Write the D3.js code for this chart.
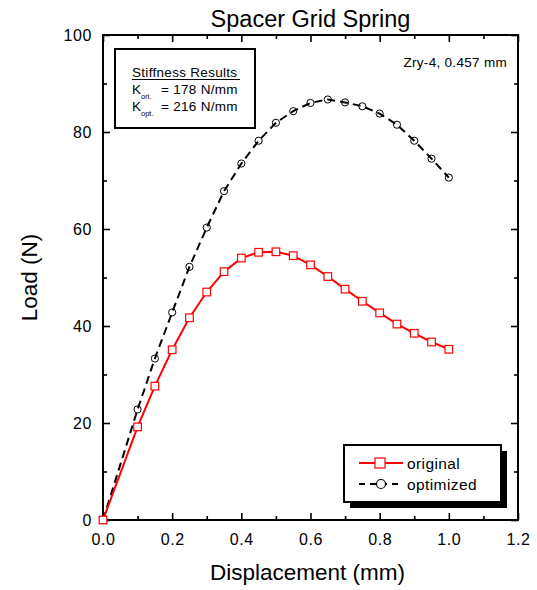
<!DOCTYPE html>
<html>
<head>
<meta charset="utf-8">
<script src="https://cdn.jsdelivr.net/npm/d3@7"></script>
<style>
  body { margin: 0; background: #fff; }
  text { font-family: "Liberation Sans", Arial, sans-serif; fill: #000; }
</style>
</head>
<body>
<div id="chart"></div>
<script>
// displacement steps (mm)
var displacement = [0, 0.1, 0.15, 0.2, 0.25, 0.3, 0.35, 0.4, 0.45, 0.5, 0.55, 0.6, 0.65, 0.7, 0.75, 0.8, 0.85, 0.9, 0.95, 1.0];
// load (N)
var loadOriginal = [0, 19.2, 27.6, 35.1, 41.7, 47.0, 51.2, 54.0, 55.2, 55.3, 54.5, 52.6, 50.2, 47.6, 45.1, 42.7, 40.4, 38.5, 36.7, 35.2];
var loadOptimized = [0, 22.8, 33.3, 42.8, 52.2, 60.3, 67.8, 73.5, 78.2, 81.9, 84.3, 86.0, 86.7, 86.1, 85.3, 83.8, 81.5, 78.2, 74.5, 70.6];
var xTicks = [0, 0.2, 0.4, 0.6, 0.8, 1.0, 1.2];
var yTicks = [0, 20, 40, 60, 80, 100];

var W = 537, H = 590;
var margin = { top: 35, right: 19, bottom: 70, left: 103 };
var w = W - margin.left - margin.right;
var h = H - margin.top - margin.bottom;

var svg = d3.select("#chart").append("svg")
  .attr("width", W)
  .attr("height", H);

var g = svg.append("g")
  .attr("transform", "translate(" + margin.left + "," + margin.top + ")");

var x = d3.scaleLinear().domain([0, 1.2]).range([0, w]);
var y = d3.scaleLinear().domain([0, 100]).range([h, 0]);

// minor ticks
var xMinor = d3.range(0.1, 1.2, 0.2);
var yMinor = d3.range(10, 100, 20);

// axes (ticks inward on all four sides)
function styleAxis(sel) {
  sel.selectAll(".domain").remove();
  sel.selectAll(".tick line").attr("stroke", "#000").attr("stroke-width", 1.6);
}

g.append("g").attr("transform", "translate(0," + h + ")")
  .call(d3.axisBottom(x).tickValues(xTicks).tickSize(-7).tickPadding(14).tickFormat(d3.format(".1f")))
  .call(styleAxis)
  .selectAll("text").style("font-size", "16px").attr("letter-spacing", "0.6px");
g.append("g").attr("transform", "translate(0," + h + ")")
  .call(d3.axisBottom(x).tickValues(xMinor).tickSize(-4).tickFormat(""))
  .call(styleAxis);
g.append("g")
  .call(d3.axisTop(x).tickValues(xTicks).tickSize(-7).tickFormat(""))
  .call(styleAxis);
g.append("g")
  .call(d3.axisTop(x).tickValues(xMinor).tickSize(-4).tickFormat(""))
  .call(styleAxis);

g.append("g")
  .call(d3.axisLeft(y).tickValues(yTicks).tickSize(-7).tickPadding(11))
  .call(styleAxis)
  .selectAll("text").style("font-size", "16px").attr("letter-spacing", "0.6px");
g.append("g")
  .call(d3.axisLeft(y).tickValues(yMinor).tickSize(-4).tickFormat(""))
  .call(styleAxis);
g.append("g").attr("transform", "translate(" + w + ",0)")
  .call(d3.axisRight(y).tickValues(yTicks).tickSize(-7).tickFormat(""))
  .call(styleAxis);
g.append("g").attr("transform", "translate(" + w + ",0)")
  .call(d3.axisRight(y).tickValues(yMinor).tickSize(-4).tickFormat(""))
  .call(styleAxis);

// frame
g.append("rect")
  .attr("width", w).attr("height", h)
  .attr("fill", "none").attr("stroke", "#000").attr("stroke-width", 2);

// series
var ptsOrig = displacement.map(function (d, i) { return [d, loadOriginal[i]]; });
var ptsOpt = displacement.map(function (d, i) { return [d, loadOptimized[i]]; });
var line = d3.line().x(function (d) { return x(d[0]); }).y(function (d) { return y(d[1]); });

g.append("path").datum(ptsOpt)
  .attr("d", line)
  .attr("fill", "none").attr("stroke", "#000").attr("stroke-width", 2)
  .attr("stroke-dasharray", "8,5");

g.selectAll(".circ").data(ptsOpt).enter().append("circle")
  .attr("class", "circ")
  .attr("cx", function (d) { return x(d[0]); })
  .attr("cy", function (d) { return y(d[1]); })
  .attr("r", 3.6)
  .attr("fill", "none").attr("stroke", "#000").attr("stroke-width", 1);

g.append("path").datum(ptsOrig)
  .attr("d", line)
  .attr("fill", "none").attr("stroke", "#ff0000").attr("stroke-width", 2);

g.selectAll(".sq").data(ptsOrig).enter().append("rect")
  .attr("class", "sq")
  .attr("x", function (d) { return x(d[0]) - 3.8; })
  .attr("y", function (d) { return y(d[1]) - 3.8; })
  .attr("width", 7.6).attr("height", 7.6)
  .attr("fill", "#fff").attr("stroke", "#ff0000").attr("stroke-width", 1.2);

// stiffness box
var sb = g.append("g").attr("transform", "translate(12,14)");
sb.append("rect").attr("width", 140).attr("height", 79)
  .attr("fill", "#fff").attr("stroke", "#000").attr("stroke-width", 2);
sb.append("text").attr("x", 17).attr("y", 28)
  .style("font-size", "13.5px").attr("letter-spacing", "0.3px")
  .text("Stiffness Results");
sb.append("line").attr("x1", 17).attr("x2", 125).attr("y1", 30.5).attr("y2", 30.5)
  .attr("stroke", "#000").attr("stroke-width", 1);
var kRows = [["ori.", "= 178 N/mm"], ["opt.", "= 216 N/mm"]];
kRows.forEach(function (r, i) {
  var t = sb.append("text").attr("x", 17).attr("y", 45 + i * 17).style("font-size", "13.5px");
  t.append("tspan").text("K");
  t.append("tspan").attr("dy", 5).style("font-size", "7.5px").text(r[0]);
  t.append("tspan").attr("x", 46).attr("dy", -5).attr("letter-spacing", "0.3px").text(r[1]);
});

// material label
g.append("text").attr("x", w - 11).attr("y", 32)
  .attr("text-anchor", "end").style("font-size", "13.5px").attr("letter-spacing", "0.3px")
  .text("Zry-4, 0.457 mm");

// legend with shadow
var lg = g.append("g").attr("transform", "translate(241,410)");
lg.append("rect").attr("x", 6).attr("y", 6).attr("width", 157).attr("height", 57).attr("fill", "#000");
lg.append("rect").attr("width", 157).attr("height", 57)
  .attr("fill", "#fff").attr("stroke", "#000").attr("stroke-width", 2);
var legendItems = [
  { name: "original", color: "#ff0000", dash: null, shape: "square" },
  { name: "optimized", color: "#000", dash: "6,5", shape: "circle" }
];
legendItems.forEach(function (d, i) {
  var yy = 18 + i * 21;
  lg.append("line").attr("x1", 15).attr("x2", 59).attr("y1", yy).attr("y2", yy)
    .attr("stroke", d.color).attr("stroke-width", 2)
    .attr("stroke-dasharray", d.dash);
  if (d.shape === "square") {
    lg.append("rect").attr("x", 31).attr("y", yy - 5).attr("width", 10).attr("height", 10)
      .attr("fill", "#fff").attr("stroke", d.color).attr("stroke-width", 1.2);
  } else {
    lg.append("circle").attr("cx", 37).attr("cy", yy).attr("r", 4.5)
      .attr("fill", "#fff").attr("stroke", d.color).attr("stroke-width", 1.2);
  }
  lg.append("text").attr("x", 63).attr("y", yy + 5.5)
    .style("font-size", "15.5px").attr("letter-spacing", "0.4px")
    .text(d.name);
});

// titles
svg.append("text").attr("x", margin.left + w / 2).attr("y", 27)
  .attr("text-anchor", "middle").style("font-size", "23.5px")
  .text("Spacer Grid Spring");
svg.append("text").attr("x", margin.left + w / 2 - 3).attr("y", 580)
  .attr("text-anchor", "middle").style("font-size", "22.5px")
  .text("Displacement (mm)");
svg.append("text")
  .attr("transform", "translate(37," + (margin.top + h / 2) + ") rotate(-90)")
  .attr("text-anchor", "middle").style("font-size", "22.5px")
  .text("Load (N)");
</script>
</body>
</html>
